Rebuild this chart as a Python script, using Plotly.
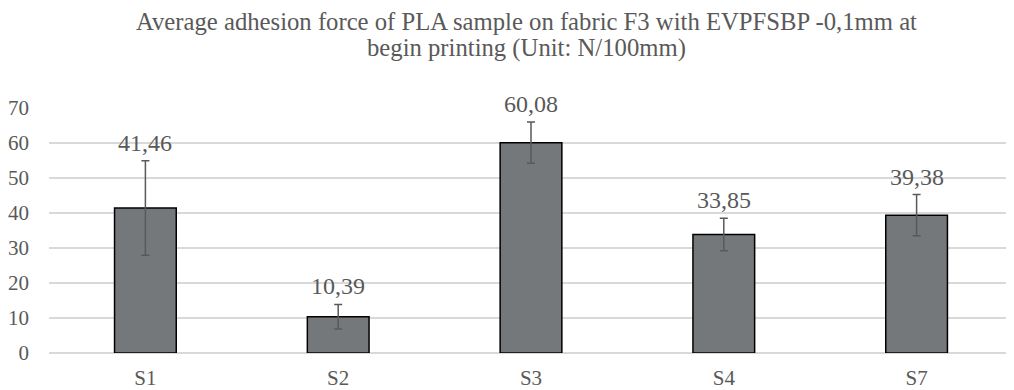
import plotly.graph_objects as go

categories = ["S1", "S2", "S3", "S4", "S7"]
values = [41.46, 10.39, 60.08, 33.85, 39.38]
errors = [13.5, 3.5, 5.9, 4.65, 5.9]
labels = ["41,46", "10,39", "60,08", "33,85", "39,38"]
title_lines = ["Average adhesion force of PLA sample on fabric F3 with EVPFSBP -0,1mm at",
               "begin printing (Unit: N/100mm)"]

FONT = "Liberation Serif"
GRAY = "#595959"

fig = go.Figure()
fig.add_trace(go.Bar(
    x=categories, y=values,
    marker=dict(color="#75787B", line=dict(color="#000000", width=1.5)),
    error_y=dict(type="data", array=errors, visible=True, color=GRAY, thickness=1.5, width=4),
    hoverinfo="skip",
))

for c, v, e, t in zip(categories, values, errors, labels):
    fig.add_annotation(x=c, y=v + e, text=t, showarrow=False, yanchor="bottom", yshift=3,
                       font=dict(family=FONT, size=24, color=GRAY))

# two-line chart title
for line, ypos in zip(title_lines, [1.355, 1.245]):
    fig.add_annotation(text=line, xref="paper", yref="paper", x=0.5, y=ypos, xshift=-5,
                       xanchor="center", yanchor="middle", showarrow=False, borderpad=0,
                       font=dict(family=FONT, size=24.7, color=GRAY))

fig.update_layout(
    width=1006, height=382,
    margin=dict(l=41, r=1, t=100, b=37),
    paper_bgcolor="white", plot_bgcolor="white",
    bargap=0.68,
    showlegend=False,
    font=dict(family=FONT, color=GRAY),
)
fig.update_xaxes(showgrid=False, showline=False, zeroline=False, ticks="", ticklabelstandoff=10,
                 tickfont=dict(family=FONT, size=21, color=GRAY))
fig.update_yaxes(range=[0, 70], dtick=10, showgrid=True, gridcolor="#D9D9D9", gridwidth=1.5,
                 zeroline=True, zerolinecolor="#D9D9D9", zerolinewidth=1.5, showline=False, ticks="",
                 ticklabelstandoff=19, tickfont=dict(family=FONT, size=21, color=GRAY))

fig.write_html("out.html")
